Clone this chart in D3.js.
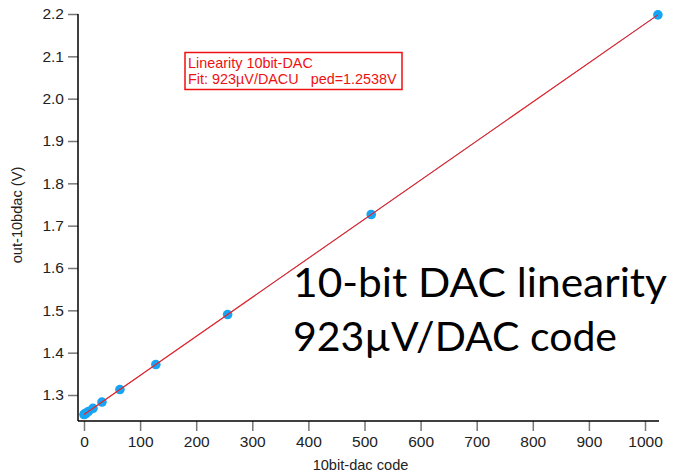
<!DOCTYPE html>
<html><head><meta charset="utf-8">
<script src="https://cdn.jsdelivr.net/npm/d3@7"></script>
<style>body{margin:0;background:#fff}svg{display:block}</style>
</head><body>
<script>
const dacCodes = [0, 1, 2, 4, 8, 16, 32, 64, 128, 256, 512, 1023];
const outVolts = [1.2538, 1.2547, 1.2556, 1.2575, 1.2612, 1.2686, 1.2833, 1.3129, 1.3720, 1.4901, 1.7264, 2.1980];
const fitSlope = 0.000923, fitPed = 1.2538;
const xTicks = [0,100,200,300,400,500,600,700,800,900,1000];
const yTicks = [1.3,1.4,1.5,1.6,1.7,1.8,1.9,2.0,2.1,2.2];
const legendLines = ["Linearity 10bit-DAC", "Fit: 923\u00b5V/DACU   ped=1.2538V"];
const bigLines = ["10-bit DAC linearity", "923\u00b5V/DAC code"];

const W = 692, H = 476;
const FONT = "'Liberation Sans', Arial, sans-serif";
const svg = d3.select("body").append("svg").attr("width", W).attr("height", H)
  .style("font-family", FONT);

const x0 = 78, x1 = 659, yTop = 14, yBot = 421;
const x = d3.scaleLinear().domain([0, 1000]).range([84, 645]);
const y = d3.scaleLinear().domain([1.3, 2.2]).range([395, 14]);

// axes
const xAxis = svg.append("g").attr("transform", `translate(0,${yBot})`)
  .call(d3.axisBottom(x).tickValues(xTicks).tickSize(10).tickPadding(5).tickFormat(d3.format("d")));
const yAxis = svg.append("g").attr("transform", `translate(${x0},0)`)
  .call(d3.axisLeft(y).tickValues(yTicks).tickSize(10).tickPadding(4).tickFormat(d3.format(".1f")));
[xAxis, yAxis].forEach(g => {
  g.attr("font-family", FONT).attr("font-size", 15.5);
  g.select(".domain").remove();
  g.selectAll(".tick line").attr("stroke", "#777").attr("stroke-width", 1.5);
  g.selectAll(".tick text").attr("fill", "#222");
});
svg.append("line").attr("x1", x0).attr("x2", x1).attr("y1", yBot).attr("y2", yBot).attr("stroke", "#000").attr("stroke-width", 1.5);
svg.append("line").attr("x1", x0).attr("x2", x0).attr("y1", yTop).attr("y2", yBot).attr("stroke", "#000").attr("stroke-width", 1.5);

// axis titles
svg.append("text").attr("x", x(500) - 4).attr("y", 470).attr("text-anchor", "middle")
  .attr("fill", "#222").style("font-size", "14.6px").text("10bit-dac code");
svg.append("text").attr("transform", `translate(22,215) rotate(-90)`).attr("text-anchor", "middle")
  .attr("fill", "#222").style("font-size", "14.6px").text("out-10bdac (V)");

const data = dacCodes.map((c, i) => ({c, v: outVolts[i]}));

// data line
svg.append("path").datum(data)
  .attr("d", d3.line().x(d => x(d.c)).y(d => y(d.v)))
  .attr("fill", "none").attr("stroke", "#2a9ff0").attr("stroke-width", 0.9);

// points
svg.append("g").selectAll("circle").data(data).join("circle")
  .attr("cx", d => x(d.c)).attr("cy", d => y(d.v)).attr("r", 4.8)
  .attr("fill", "#16a4f4");

// fit line
const fitX = [0, 1023];
svg.append("path").datum(fitX)
  .attr("d", d3.line().x(c => x(c)).y(c => y(fitPed + fitSlope * c)))
  .attr("fill", "none").attr("stroke", "#f02020").attr("stroke-width", 1.1);

// legend box
svg.append("rect").attr("x", 185).attr("y", 52.5).attr("width", 217).attr("height", 37)
  .attr("fill", "#fff").attr("stroke", "#ee1111").attr("stroke-width", 1.5);
legendLines.forEach((t, i) => {
  svg.append("text").attr("x", 188).attr("y", 67.5 + i * 16.5).attr("fill", "#ee1111")
    .attr("xml:space", "preserve").style("white-space", "pre")
    .style("font-size", "14.4px").text(t);
});

// big annotation
const bigW = [374, 324];
bigLines.forEach((t, i) => {
  svg.append("text").attr("x", 293).attr("y", 297 + i * 54).attr("fill", "#000")
    .style("font-family", "Lato, 'Liberation Sans', sans-serif").style("font-size", "41px")
    .attr("textLength", bigW[i]).attr("lengthAdjust", "spacingAndGlyphs").text(t);
});
</script>
</body></html>
